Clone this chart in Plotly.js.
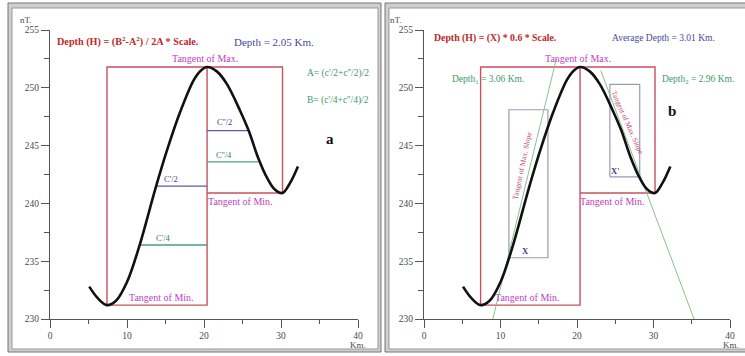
<!DOCTYPE html>
<html>
<head>
<meta charset="utf-8">
<script src="https://cdn.plot.ly/plotly-3.0.1.min.js"></script>
<style>html,body{margin:0;padding:0;background:#fff;}#chart{width:745px;height:356px;}</style>
</head>
<body>
<div id="chart"></div>
<script>
// ---- data ----
const curveX = [5.1, 6.2, 7.4, 8.6, 10.0, 11.6, 13.7, 15.2, 16.9, 18.7, 19.6, 20.4, 21.7, 23.0, 24.7, 25.8, 27.0, 28.2, 29.2, 30.2, 31.2, 32.2];
const curveY = [232.8, 231.8, 231.2, 231.6, 233.2, 236.3, 241.3, 244.6, 247.9, 250.7, 251.5, 251.8, 251.4, 250.3, 248.0, 246.3, 244.0, 242.2, 241.2, 240.9, 241.8, 243.2];

const tangentBoxX = [7.4, 7.4, 30.2, 30.2, null, 7.4, 20.4, 20.4, null, 20.4, 30.2];
const tangentBoxY = [231.2, 251.8, 251.8, 240.9, null, 231.2, 231.2, 251.8, null, 240.9, 240.9];

const halfLineX = [13.7, 20.4, null, 20.4, 25.8];
const halfLineY = [241.5, 241.5, null, 246.3, 246.3];
const quarterLineX = [11.6, 20.4, null, 20.4, 27.0];
const quarterLineY = [236.4, 236.4, null, 243.6, 243.6];

const slopeLineX = [9.0, 17.3, null, 23.1, 35.3];
const slopeLineY = [230, 252.5, null, 251.5, 230];
const xBoxX = [11.1, 16.2, 16.2, 11.1, 11.1, null, 24.3, 28.2, 28.2, 24.3, 24.3];
const xBoxY = [235.3, 235.3, 248.1, 248.1, 235.3, null, 242.3, 242.3, 250.3, 250.3, 242.3];

const xTicks = [0, 10, 20, 30, 40];
const yTicks = [230, 235, 240, 245, 250, 255];

// ---- styling ----
const FONT = 'Liberation Serif, Times New Roman, serif';
const RED = '#c9505f', BLUE = '#5a5ab4', GREEN = '#4aa07a', MAG = '#c040c0';
const W = 745, H = 356;
const px = v => v / W, py = v => 1 - v / H;

function line(x, y, color, width, xa, ya) {
  return {x: x, y: y, xaxis: xa, yaxis: ya, mode: 'lines', connectgaps: false,
    line: {color: color, width: width}, hoverinfo: 'skip', showlegend: false};
}
function curve(xa, ya) {
  return {x: curveX, y: curveY, xaxis: xa, yaxis: ya, mode: 'lines',
    line: {color: '#111', width: 2.6, shape: 'spline', smoothing: 1}, hoverinfo: 'skip', showlegend: false};
}

const traces = [
  line(tangentBoxX, tangentBoxY, RED, 1.4, 'x', 'y'),
  line(halfLineX, halfLineY, BLUE, 1.3, 'x', 'y'),
  line(quarterLineX, quarterLineY, GREEN, 1.3, 'x', 'y'),
  curve('x', 'y'),
  line(tangentBoxX, tangentBoxY, RED, 1.4, 'x2', 'y2'),
  line(xBoxX, xBoxY, '#9a9ab8', 1.2, 'x2', 'y2'),
  line(slopeLineX, slopeLineY, '#8cc08c', 1, 'x2', 'y2'),
  curve('x2', 'y2')
];

const TICKFONT = {family: FONT, size: 9.5, color: '#4a4a4a'};
function xax(dom) {
  return {domain: dom, range: [0, 40], tickvals: xTicks, ticktext: xTicks.map(String),
    showgrid: false, zeroline: false, showline: true, linecolor: '#555', linewidth: 1,
    ticks: 'outside', ticklen: 8, tickcolor: '#555', tickfont: TICKFONT,
    minor: {dtick: 5, tick0: 0, ticks: 'outside', ticklen: 4, tickcolor: '#555', showgrid: false},
    fixedrange: true};
}
function yax(anchor) {
  return {domain: [py(319), py(30)], range: [230, 255], anchor: anchor, tickvals: yTicks, ticktext: yTicks.map(String),
    showgrid: false, zeroline: false, showline: true, linecolor: '#555', linewidth: 1,
    ticks: 'outside', ticklen: 8, tickcolor: '#555', tickfont: TICKFONT,
    minor: {dtick: 2.5, tick0: 230, ticks: 'outside', ticklen: 5, tickcolor: '#555', showgrid: false},
    fixedrange: true};
}

function ann(text, x, y, xr, yr, opts) {
  return Object.assign({text: text, x: x, y: y, xref: xr, yref: yr, showarrow: false,
    xanchor: 'center', yanchor: 'middle', font: {family: FONT, size: 9, color: '#333'}}, opts || {});
}
const UNIT = {family: FONT, size: 9, color: '#4a4a4a'};
const annotations = [
  // unit labels (paper positions)
  ann('nT.', px(26), py(20), 'paper', 'paper', {font: UNIT}),
  ann('Km.', px(358), py(345), 'paper', 'paper', {font: UNIT}),
  ann('nT.', px(396), py(20), 'paper', 'paper', {font: UNIT}),
  ann('Km.', px(731), py(345), 'paper', 'paper', {font: UNIT}),
  // left panel
  ann('<b>Depth (H) = (B<sup>2</sup>-A<sup>2</sup>) / 2A * Scale.</b>', 0.6, 254.0, 'x', 'y', {xanchor: 'left', font: {family: FONT, size: 10.2, color: '#c02828'}}),
  ann('Depth = 2.05 Km.', 23.6, 254.0, 'x', 'y', {xanchor: 'left', font: {family: FONT, size: 11, color: '#4848a0'}}),
  ann('Tangent of Max.', 20.1, 252.5, 'x', 'y', {font: {family: FONT, size: 10, color: MAG}}),
  ann("A= (c'/2+c''/2)/2", 33.1, 251.2, 'x', 'y', {xanchor: 'left', font: {family: FONT, size: 9.5, color: '#3c9a6a'}}),
  ann("B= (c'/4+c''/4)/2", 33.1, 248.9, 'x', 'y', {xanchor: 'left', font: {family: FONT, size: 9.5, color: '#3c9a6a'}}),
  ann('<b>a</b>', 36.4, 245.6, 'x', 'y', {font: {family: FONT, size: 15, color: '#111'}}),
  ann("C''/2", 22.6, 247.0, 'x', 'y', {font: {family: FONT, size: 8.5, color: '#4040a0'}}),
  ann("C''/4", 22.6, 244.2, 'x', 'y', {font: {family: FONT, size: 8.5, color: '#2f7f5f'}}),
  ann("C'/2", 15.7, 242.1, 'x', 'y', {font: {family: FONT, size: 8.5, color: '#4040a0'}}),
  ann("C'/4", 14.8, 237.0, 'x', 'y', {font: {family: FONT, size: 8.5, color: '#2f7f5f'}}),
  ann('Tangent of Min.', 14.5, 231.85, 'x', 'y', {font: {family: FONT, size: 10, color: MAG}}),
  ann('Tangent of Min.', 24.7, 240.15, 'x', 'y', {font: {family: FONT, size: 10, color: MAG}}),
  // right panel
  ann('<b>Depth (H) = (X) * 0.6 * Scale.</b>', 1.0, 254.3, 'x2', 'y2', {xanchor: 'left', font: {family: FONT, size: 9.8, color: '#c02828'}}),
  ann('Average Depth = 3.01 Km.', 24.3, 254.3, 'x2', 'y2', {xanchor: 'left', font: {family: FONT, size: 9.5, color: '#4848a0'}}),
  ann('Tangent of Max.', 20.1, 252.5, 'x2', 'y2', {font: {family: FONT, size: 10, color: MAG}}),
  ann('Depth<sub>1</sub> = 3.06 Km.', 3.4, 250.7, 'x2', 'y2', {xanchor: 'left', font: {family: FONT, size: 9.5, color: '#3c9a6a'}}),
  ann('Depth<sub>2</sub> = 2.96 Km.', 30.8, 250.7, 'x2', 'y2', {xanchor: 'left', font: {family: FONT, size: 9.5, color: '#3c9a6a'}}),
  ann('<b>b</b>', 32.4, 248.0, 'x2', 'y2', {font: {family: FONT, size: 15, color: '#111'}}),
  ann('<b>X</b>', 13.3, 235.9, 'x2', 'y2', {font: {family: FONT, size: 8.5, color: '#4040a0'}}),
  ann("<b>X'</b>", 25.0, 242.8, 'x2', 'y2', {font: {family: FONT, size: 8.5, color: '#4040a0'}}),
  ann('Tangent of Max. Slope', 12.8, 243.3, 'x2', 'y2', {textangle: -78, font: {family: FONT, size: 7.5, color: '#c05070'}}),
  ann('Tangent of Max. Slope', 26.6, 247.0, 'x2', 'y2', {textangle: 66, font: {family: FONT, size: 7.5, color: '#c05070'}}),
  ann('Tangent of Min.', 13.5, 231.85, 'x2', 'y2', {font: {family: FONT, size: 10, color: MAG}}),
  ann('Tangent of Min.', 24.6, 240.15, 'x2', 'y2', {font: {family: FONT, size: 10, color: MAG}})
];

function frame(x0, y0, x1, y1) {
  return [
    {type: 'rect', xref: 'paper', yref: 'paper', x0: px(x0), x1: px(x1), y0: py(y1), y1: py(y0),
      line: {color: '#777', width: 1}, fillcolor: '#cfcfcf', layer: 'below'},
    {type: 'rect', xref: 'paper', yref: 'paper', x0: px(x0 + 4), x1: px(x1 - 3), y0: py(y1 - 3), y1: py(y0 + 5),
      line: {color: '#999', width: 1}, fillcolor: '#ffffff', layer: 'below'}
  ];
}
const shapes = [].concat(frame(8, 3, 381, 352), frame(385, 3, 752, 352));

const layout = {
  width: W, height: H, margin: {l: 0, r: 0, t: 0, b: 0},
  paper_bgcolor: '#ffffff', plot_bgcolor: 'rgba(0,0,0,0)', showlegend: false,
  xaxis: Object.assign(xax([px(50), px(358)]), {anchor: 'y'}),
  yaxis: yax('x'),
  xaxis2: Object.assign(xax([px(424), px(730)]), {anchor: 'y2'}),
  yaxis2: yax('x2'),
  annotations: annotations, shapes: shapes
};
Plotly.newPlot('chart', traces, layout, {displayModeBar: false, staticPlot: true});
</script>
</body>
</html>
